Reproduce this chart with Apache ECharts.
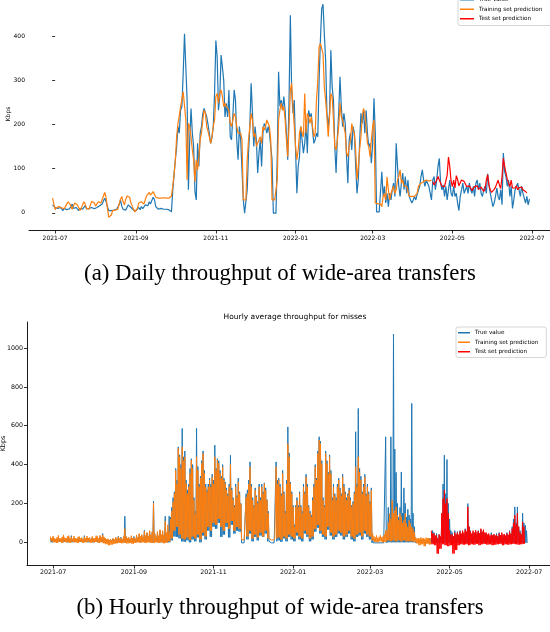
<!DOCTYPE html>
<html>
<head>
<meta charset="utf-8">
<script src="https://cdn.jsdelivr.net/npm/echarts/dist/echarts.min.js"></script>
<style>
html,body{margin:0;padding:0;background:#fff;}
#chart{width:550px;height:632px;}
</style>
</head>
<body>
<div id="chart"></div>
<script>
// ---- axis ticks (days since 2021-07-01) ----
const tickDays = [0, 62, 123, 184, 243, 304, 365];
const tickLabels = ['2021-07', '2021-09', '2021-11', '2022-01', '2022-03', '2022-05', '2022-07'];
const dailyYTicks = [0, 100, 200, 300, 400];
const hourlyYTicks = [0, 200, 400, 600, 800, 1000];
const seriesNames = ['True value', 'Training set prediction', 'Test set prediction'];

// ---- (a) daily throughput (first day offsets) ----
const dailyTrueStart = -2;
const dailyTrainStart = -2;
const dailyTestStart = 289;
const dailyTrue = [
  18,15,12,8,10,6,12,9,5,10, 13,7,4,9,14,20,10,6,12,8, 5,10,13,8,12,16,9,6,10,8,
  12,14,9,7,12,10,16,12,20,27, 33,25,14,5,4,5,5,6,5,8, 10,18,29,15,8,10,6,12,18,22,
  12,8,6,10,5,8,12,7,14,9, 12,18,22,16,25,20,28,35,30,14, 10,8,8,10,7,8,9,8,12,7, 5,2,
  50,86,120,150,195,180,232,240,315,405,
  402,255,52,165,236,180,150,48,29,157,
  105,180,195,225,236,232,217,200,180,157,
  170,195,270,390,353,232,262,357,330,300,
  217,247,217,278,172,165,220,278,255,165,
  120,195,165,165,29,-1,-1,52,135,195,
  293,226,150,195,165,90,135,165,105,180,
  202,195,180,195,180,150,120,-1,-1,-1,
  130,319,241,255,232,263,232,180,120,255,
  447,278,226,255,142,44,105,127,195,165,
  135,157,202,135,232,217,225,187,157,165,
  180,172,300,390,462,472,405,345,225,195,
  225,368,285,255,150,90,172,225,308,240,
  195,225,202,127,67,165,180,142,195,180,
  105,44,74,157,225,202,232,180,232,180,
  150,157,112,157,259,180,2,1,2,3,
  93,37,60,22,44,14,44,29,52,67,
  37,157,105,60,37,67,90,52,82,44,
  74,37,29,22,29,37,29,41,44,60,
  82,97,74,60,74,67,60,60,29,74,
  82,52,74,105,123,67,52,63,37,60,
  29,52,74,44,37,60,37,44,22,5,
  37,52,67,44,52,60,44,67,52,44,
  60,37,67,74,52,67,44,37,52,60,
  44,88,63,44,29,14,22,37,56,37,
  29,52,18,135,93,82,60,74,37,60,
  10,29,52,60,67,52,37,60,44,33,
  22,37,18,31
];
const dailyTrain = [
  33,20,7,12,10,14,12,11,13,9, 15,20,25,22,16,8,12,22,25,18,
  12,5,10,18,25,20,10,12,8,18, 26,29,22,15,20,25,29,22,30,38,
  46,35,10,-10,-14,-5,5,5,6,5, 8,20,30,37,25,18,30,38,42,35,
  22,15,8,2,-1,10,22,18,25,29, 20,30,38,42,46,40,44,48,45,35,
  33,33,33,33,33,34,33,33,35,33, 36,38,
  60,86,120,172,202,220,240,240,274,270,
  210,75,202,195,172,142,120,70,120,97,
  127,165,180,210,232,225,195,185,172,157,
  172,195,210,263,270,248,270,278,263,240,
  248,240,240,232,202,195,210,225,217,195,
  180,180,180,165,29,29,29,120,165,165,
  225,210,172,180,150,150,165,172,157,195,
  187,195,210,210,195,165,29,29,29,29,
  75,210,232,248,232,240,210,165,127,195,
  278,293,240,195,150,120,142,180,195,180,
  172,270,180,225,217,202,217,195,172,180,
  255,300,375,383,383,360,285,255,217,172,
  217,270,263,210,150,142,165,195,248,217,
  210,195,180,135,127,150,165,202,187,180,
  142,75,105,142,172,217,236,225,195,157,
  150,127,165,195,210,22,20,20,20,20,
  14,37,44,29,81,52,29,44,52,60,
  44,52,74,82,97,67,74,60,56,60,
  48,37,33,37,35,37,41,44,60,61,
  67,63,71,67,74,71,72,71,74
];
const dailyTest = [
  70,63,67,74,82,74,71,60,63,59,
  56,85,126,105,72,59,74,56,84,75,
  61,59,74,76,71,67,59,56,61,56,
  50,48,59,62,61,53,52,58,53,48,
  54,74,86,62,52,46,47,53,58,66,
  74,63,55,82,123,105,90,76,67,59,
  74,56,55,56,61,52,57,61,58,52,
  55,48,45
];

// ---- (b) hourly throughput: daily peak of the hourly values, and 2-day lows ----
const hourlyStart = -2;
const hourlyTestStart = 290;
const hourlyTrueHi = [
  20,15,25,18,15,18,22,16,14,20, 26,18,16,18,24,14,34,15,22,16,
  12,18,25,14,20,12,34,15,22,16, 18,12,24,14,16,20,28,14,30,18,
  45,20,20,12,15,10,14,10,18,12, 24,14,30,18,26,15,20,134,28,16,
  22,14,25,16,30,18,28,20,40,24, 35,22,62,30,48,28,55,32,50,211,
  40,25,45,28,60,35,50,30,134,45, 60,134,
  130,180,230,260,380,320,491,450,400,586,
  440,470,320,270,300,380,430,400,230,160,
  586,390,300,340,420,470,370,300,270,300,
  330,300,350,320,500,380,430,420,370,340,
  400,330,310,280,250,300,448,280,230,190,
  300,240,330,260,200,0,0,0,250,270,
  320,414,300,230,190,280,240,210,300,230,
  300,260,306,280,220,160,0,0,0,0,
  0,414,320,330,300,250,370,260,160,320,
  594,460,310,260,190,90,190,230,190,260,
  190,160,300,260,350,300,190,160,140,230,
  300,400,330,470,543,520,420,230,190,470,
  420,360,450,370,230,300,250,230,300,330,
  280,250,350,300,260,230,250,280,230,190,
  210,260,569,300,689,380,340,260,300,350,
  250,300,260,210,280,20,0,0,0,0,
  0,0,0,0,0,543,40,180,120,543,
  200,1072,480,360,200,130,180,362,150,280,
  200,130,170,140,120,715,150,80,0,10,
  0,15,0,12,0,10,0,15,0,20,
  20,60,50,30,45,20,40,25,120,300,
  448,250,426,200,120,60,50,30,60,40,
  55,35,60,40,50,40,70,45,199,80,
  60,40,50,35,55,40,60,45,65,50,
  60,40,45,30,40,30,50,35,40,30,
  45,30,50,35,45,30,40,30,50,35,
  60,40,80,120,182,100,182,80,60,40,
  150,100,88,60
];
const hourlyTrueLo = [
  0,2,0,3,0,2,0,2,0,3, 0,2,0,2,0,2,0,3,0,2,
  0,0,0,0,0,2,0,2,0,2, 0,2,0,2,0,3,0,2,0,0,
  2,0,0,2,0,0,10,30,28,20, 5,3,10,0,15,5,25,0,35,15,
  60,28,80,70,100,28,40,80,25,90, 45,60,55,-3,-3,15,45,5,28,10,
  35,28,45,5,-3,-3,5,10,3,20, 5,28,15,5,35,15,5,45,28,5,
  15,55,75,45,28,15,65,35,15,28, 45,35,15,28,45,15,5,28,35,15,
  45,28,15,-3,-3,-3,-3,-3,-3,0, 0,0,0,0,0,0,0,0,0,0,
  -3,-3,-3,-3,-3,-3,-3,-3,-3,-3, -3,-3,-3,-3,-3,-3,-3,-3,-3,-3,
  -3,-3,-3,-3,-3,-3,-3,-3,-3,-3, -3,-3,-3,-3,-3,-3,-3,-3,-3,-3,
  -3,-3,-3
];
const hourlyTrainHi = [
  30,22,32,20,18,25,35,22,20,28, 38,24,22,30,34,20,28,18,32,22,
  18,26,30,20,24,16,28,20,32,22, 25,18,30,20,22,34,30,20,36,25,
  38,28,22,15,18,12,16,12,20,15, 25,18,28,20,22,16,30,70,30,22,
  26,18,34,22,24,18,38,26,45,30, 40,28,58,35,50,32,60,40,55,200,
  45,30,55,35,65,40,60,38,110,50, 90,55,
  120,160,208,250,371,300,483,440,380,491,
  420,440,302,250,285,355,423,380,216,148,
  440,371,285,330,406,457,355,285,260,285,
  320,285,337,300,440,371,423,406,355,330,
  388,320,302,268,240,285,400,268,220,182,
  285,233,311,250,199,14,16,14,233,250,
  300,388,285,216,182,268,233,200,285,216,
  285,250,302,268,216,150,20,18,20,16,
  24,388,300,320,285,240,355,250,148,300,
  508,440,302,250,182,79,182,216,180,250,
  182,148,285,250,337,285,182,150,131,216,
  285,388,320,457,526,508,405,216,182,457,
  405,350,440,355,216,285,240,216,285,320,
  268,240,337,285,250,216,240,268,216,182,
  200,250,388,285,440,360,320,250,285,337,
  240,285,250,200,268,45,30,25,35,22,
  28,35,25,30,40,60,60,100,148,120,
  216,150,165,182,140,113,148,131,100,113,
  148,96,79,113,96,79,70,53,25,20,
  22,18,25,20,20,18,24,20,22,20
];
const hourlyTrainLo = [
  5,0,-3,2,-2,3,0,-2,2,0, -3,2,-2,0,3,-2,0,2,-2,0,
  -5,-10,-15,-12,-8,-5,-3,-5,-2,-6, -4,-8,-3,0,-2,0,-4,0,-2,-4,
  0,-3,0,-5,-2,5,20,60,80,40, 20,15,25,12,30,20,40,15,50,30,
  80,60,100,90,120,80,60,100,70,110, 60,80,70,14,12,30,60,20,40,25,
  50,30,60,20,12,12,20,25,15,30, 20,40,30,20,50,30,20,60,40,20,
  30,70,90,60,40,30,80,50,30,40, 60,50,30,40,60,30,20,40,50,30,
  60,40,30,10,2,0,5,0,2,10, 5,10,5,10,5,10,5,5,5,2,
  -5,-15,-10,-20,-8,-12
];
const hourlyTestHi = [
  60,45,45,35,35,20,40,30,150,225,
  268,200,225,150,60,40,40,30,50,40,
  50,40,55,45,60,50,65,55,182,80,
  55,45,60,50,62,50,58,45,70,55,
  65,50,50,40,45,35,40,35,42,35,
  38,30,45,35,50,40,42,35,45,38,
  55,45,70,100,139,90,150,80,50,40,
  105,80
];
const hourlyTestLo = [
  -10,-15,-58,-33,-10,-15,-20,-15,-58,-40, -15,-10,-12,-10,-15,-10,-12,-8,-15,-10,
  -8,-12,-10,-15,-12,-10,-8,-15,-10,-12, -10,-8,-10,-12,-10,-8
];

// ---- build data ----
function daily(arr, start) { return arr.map((v, i) => [start + i, v]); }
function hourly(hi, lo, start) {
  const out = [];
  for (let i = 0; i < hi.length; i++) {
    out.push([start + i, hi[i]]);
    out.push([start + i + 0.5, lo[Math.floor(i / 2)]]);
  }
  return out;
}
const labelOf = {};
tickDays.forEach((d, i) => { labelOf[d] = tickLabels[i]; });

const FONT = 'DejaVu Sans';
const colors = ['#1f77b4', '#ff7f0e', '#ff0000'];

function xAxisCfg(grid, fs, margin) {
  return {
    gridIndex: grid, type: 'value', min: -20, max: 381,
    axisLine: { show: true, onZero: false, lineStyle: { color: '#000', width: 0.9 } },
    axisTick: { show: true, customValues: tickDays, length: 3.5, lineStyle: { color: '#000', width: 0.8 } },
    axisLabel: { customValues: tickDays, formatter: v => labelOf[v] || '', fontSize: fs, fontFamily: FONT, color: '#000', margin: margin },
    splitLine: { show: false }
  };
}
function lineSeries(name, xi, data, color, w) {
  return {
    type: 'line', name: name, xAxisIndex: xi, yAxisIndex: xi, data: data,
    showSymbol: false, symbol: 'none', lineStyle: { color: color, width: w }, itemStyle: { color: color },
    animation: false, silent: true
  };
}

const chart = echarts.init(document.getElementById('chart'));
chart.setOption({
  animation: false,
  backgroundColor: '#fff',
  title: [
    { text: 'Hourly average throughput for misses', left: 290, top: 308, textAlign: 'center',
      textStyle: { fontSize: 7.5, fontWeight: 'normal', fontFamily: FONT, color: '#000' } },
    { text: '(a) Daily throughput of wide-area transfers', left: 275, top: 258, textAlign: 'center',
      textStyle: { fontSize: 22.8, fontWeight: 'normal', fontFamily: 'Liberation Serif', color: '#000' } },
    { text: '(b) Hourly throughput of wide-area transfers', left: 275, top: 592, textAlign: 'center',
      textStyle: { fontSize: 22.8, fontWeight: 'normal', fontFamily: 'Liberation Serif', color: '#000' } }
  ],
  legend: [
    { data: seriesNames, orient: 'vertical', left: 458, top: -7, itemWidth: 14, itemHeight: 1.5, icon: 'rect', itemGap: 0,
      padding: [2, 10, 2, 2], borderColor: '#cccccc', borderWidth: 0.8, borderRadius: 2, backgroundColor: '#fff',
      textStyle: { fontSize: 5.7, fontFamily: FONT, color: '#000', lineHeight: 9.5 } },
    { data: seriesNames, orient: 'vertical', left: 456, top: 327, itemWidth: 12, itemHeight: 1.5, icon: 'rect', itemGap: 0,
      padding: [1, 8, 1, 2], borderColor: '#cccccc', borderWidth: 0.8, borderRadius: 2, backgroundColor: '#fff',
      textStyle: { fontSize: 5.7, fontFamily: FONT, color: '#000', lineHeight: 9.5 } }
  ],
  grid: [
    { left: 29, top: -2, width: 524, height: 232, outerBoundsMode: 'none', containLabel: false },
    { left: 27, top: 322, width: 523, height: 243, outerBoundsMode: 'none', containLabel: false }
  ],
  xAxis: [ xAxisCfg(0, 6, 5), xAxisCfg(1, 6.3, 4) ],
  yAxis: [
    { gridIndex: 0, type: 'value', min: -39, max: 486,
      name: 'Kbps', nameLocation: 'middle', nameRotate: 90, nameGap: 18, nameMoveOverlap: false,
      nameTextStyle: { fontSize: 6, fontFamily: FONT, color: '#000' },
      axisLine: { show: false },
      axisTick: { show: true, customValues: dailyYTicks, length: 3, lineStyle: { color: '#000', width: 0.8 } },
      axisLabel: { customValues: dailyYTicks, formatter: v => String(v), fontSize: 6, fontFamily: FONT, color: '#000', margin: 4 },
      splitLine: { show: false } },
    { gridIndex: 1, type: 'value', min: -117, max: 1134,
      name: 'Kbps', nameLocation: 'middle', nameRotate: 90, nameGap: 20, nameMoveOverlap: false,
      nameTextStyle: { fontSize: 6.5, fontFamily: FONT, color: '#000' },
      axisLine: { show: true, onZero: false, lineStyle: { color: '#000', width: 0.9 } },
      axisTick: { show: true, customValues: hourlyYTicks, length: 3, lineStyle: { color: '#000', width: 0.8 } },
      axisLabel: { customValues: hourlyYTicks, formatter: v => String(v), fontSize: 6.3, fontFamily: FONT, color: '#000', margin: 4 },
      splitLine: { show: false } }
  ],
  series: [
    lineSeries(seriesNames[0], 0, daily(dailyTrue, dailyTrueStart), colors[0], 1.2),
    lineSeries(seriesNames[1], 0, daily(dailyTrain, dailyTrainStart), colors[1], 1.2),
    lineSeries(seriesNames[2], 0, daily(dailyTest, dailyTestStart), colors[2], 1.2),
    lineSeries(seriesNames[0], 1, hourly(hourlyTrueHi, hourlyTrueLo, hourlyStart), colors[0], 1),
    lineSeries(seriesNames[1], 1, hourly(hourlyTrainHi, hourlyTrainLo, hourlyStart), colors[1], 1),
    lineSeries(seriesNames[2], 1, hourly(hourlyTestHi, hourlyTestLo, hourlyTestStart), colors[2], 1)
  ]
});
</script>
</body>
</html>
